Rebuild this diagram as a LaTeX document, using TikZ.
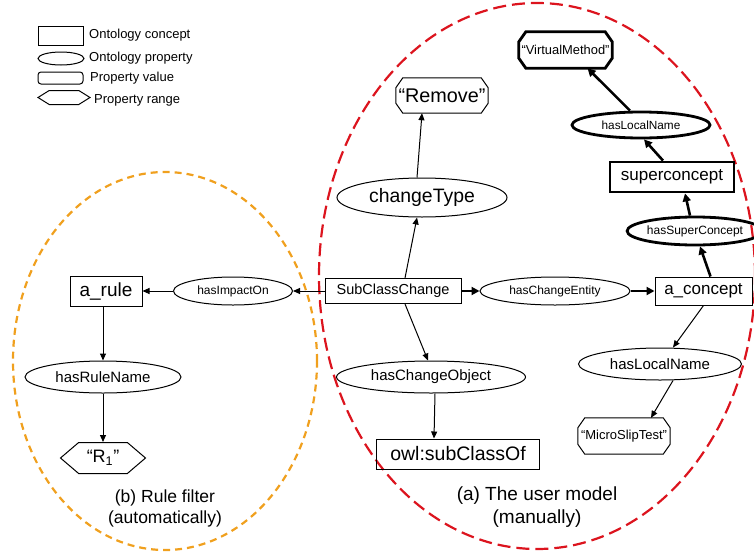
\documentclass[tikz,border=0pt]{standalone}
\usepackage{fontspec}
\setmainfont{Liberation Sans}
\usetikzlibrary{shapes.geometric,shapes.misc,shapes.symbols,arrows.meta,calc}
\definecolor{dashred}{RGB}{220,20,30}
\definecolor{dashorange}{RGB}{240,160,30}
\newcommand{\fs}[1]{\fontsize{#1}{#1}\selectfont}
\newcommand{\chamf}[4]{%
  \draw[#4] ([xshift=#2]#1.north west) -- ([xshift=-#2]#1.north east) -- ([yshift=-#3]#1.north east)
    -- ([yshift=#3]#1.south east) -- ([xshift=-#2]#1.south east) -- ([xshift=#2]#1.south west)
    -- ([yshift=#3]#1.south west) -- ([yshift=-#3]#1.north west) -- cycle;}
\begin{document}
\begin{tikzpicture}[x=1pt,y=-1pt,
  lthin/.style={line width=1pt},
  lthick/.style={line width=2.8pt},
  concept/.style={draw, rectangle, inner sep=0pt},
  prop/.style={draw, ellipse, inner sep=0pt},
  pval/.style={rectangle, inner sep=0pt},
  prange/.style={draw, signal, signal to=west and east, inner sep=0pt},
  arr/.style={line width=1pt, -{Triangle[length=7pt,width=6pt]}},
  tarr/.style={line width=2.6pt, -{Triangle[length=8pt,width=8pt]}},
  legtext/.style={anchor=west, font=\fs{13}, inner sep=0pt}
]
\useasboundingbox (0,0) rectangle (754,554);

% group ellipses
\draw[dashorange, line width=2.2pt, dash pattern=on 7pt off 5pt] (165,361) ellipse [x radius=152pt, y radius=189pt];
\draw[dashred, line width=2.2pt, dash pattern=on 13pt off 6pt] (537,276) ellipse [x radius=218pt, y radius=273pt];

% legend
\node[concept, lthin, minimum width=45pt, minimum height=19pt] (lc) at (60.5,35.5) {};
\node[prop, lthin, minimum width=46pt, minimum height=13pt] (lp) at (61,58.5) {};
\node[draw, lthin, rounded corners=3pt, minimum width=45pt, minimum height=12pt, inner sep=0pt] (lv) at (60.5,78) {};
\node[prange, lthin, minimum width=52pt, minimum height=14pt, signal pointer angle=64] (lr) at (64,97.5) {};
\node[legtext] (lct) at (89,35) {Ontology concept};
\node[legtext] (lpt) at (89,58) {Ontology property};
\node[legtext] (lvt) at (90,78) {Property value};
\node[legtext] (lrt) at (94,100) {Property range};

% left group
\node[concept, lthin, minimum width=72pt, minimum height=30pt, font=\fs{19}] (arule) at (106,291) {a\_rule};
\node[prop, lthin, minimum width=119pt, minimum height=28pt, font=\fs{12}] (imp) at (233,291) {hasImpactOn};
\node[prop, lthin, minimum width=156pt, minimum height=32pt, font=\fs{15}] (rname) at (103,377) {hasRuleName};
\node[prange, lthin, minimum width=85pt, minimum height=31pt, signal pointer angle=81, font=\fs{18}] (r1) at (103,458) {“R\textsubscript{1}”};
\node[font=\fs{17.5}, align=center, inner sep=0pt] (capb) at (165,508.5) {(b) Rule filter\\[4pt](automatically)};

% right group
\node[concept, lthin, minimum width=136pt, minimum height=25pt, font=\fs{14.5}] (sub) at (393,291) {SubClassChange};
\node[prop, lthin, minimum width=150pt, minimum height=28pt, font=\fs{12}] (hce) at (555,291) {hasChangeEntity};
\node[concept, lthin, minimum width=97pt, minimum height=28pt, font=\fs{17}] (ac) at (703.5,291) {a\_concept};
\node[prop, lthin, minimum width=189pt, minimum height=32pt, font=\fs{15}] (hco) at (431,377) {hasChangeObject};
\node[concept, lthin, minimum width=163pt, minimum height=30pt, font=\fs{19.5}] (owl) at (458,454) {owl:subClassOf};
\node[prop, lthin, minimum width=163pt, minimum height=32pt, font=\fs{15}] (hlnl) at (660,364) {hasLocalName};
\node[pval, minimum width=92pt, minimum height=36pt, font=\fs{13}] (mst) at (624,436) {“MicroSlipTest”};
\node[prop, lthin, minimum width=170pt, minimum height=39pt, font=\fs{19.4}] (ct) at (422,197.5) {changeType};
\node[pval, minimum width=92pt, minimum height=35pt, font=\fs{19.8}] (rem) at (442,95.5) {“Remove”};
\node[pval, minimum width=93pt, minimum height=36pt, font=\fs{12.9}] (vm) at (565.5,50) {“VirtualMethod”};
\node[prop, lthick, minimum width=138pt, minimum height=26pt, font=\fs{11.8}] (hlnu) at (641,125) {hasLocalName};
\node[concept, lthick, minimum width=124pt, minimum height=30pt, font=\fs{17}] (sup) at (672,177) {superconcept};
\node[prop, lthick, minimum width=116pt, minimum height=28pt, font=\fs{12}] (hsc) at (695,231) {hasSuperConcept};
\node[font=\fs{19}, align=center, inner sep=0pt] (capa) at (537,507.5) {(a) The user model\\[4pt](manually)};

% chamfered outlines of property values
\chamf{mst}{7pt}{10pt}{lthin}
\chamf{rem}{7pt}{10pt}{lthin}
\chamf{vm}{7pt}{10pt}{lthick}

% connectors left
\draw[arr] (sub.west) -- (imp.east);
\draw[arr] (imp.west) -- (arule.east);
\draw[arr] ([xshift=-3pt]arule.south) -- (rname.north);
\draw[arr] (rname.south) -- (r1.north);

% connectors right (thin)
\draw[arr] ([xshift=12pt]sub.north) -- ([xshift=-5pt]ct.south);
\draw[arr] ([xshift=-5pt]ct.north) -- ([xshift=-20pt]rem.south);
\draw[arr] ([xshift=12pt]sub.south) -- ([xshift=-3pt]hco.north);
\draw[arr] ([xshift=4pt]hco.south) -- ([xshift=-24pt]owl.north);
\draw[arr] (ac.south) -- ([xshift=13pt]hlnl.north);
\draw[arr] ([xshift=13pt]hlnl.south) -- ([xshift=27pt]mst.north);

% connectors right (thick)
\draw[tarr] (sub.east) -- (hce.west);
\draw[tarr] (hce.east) -- (ac.west);
\draw[tarr] ([xshift=7pt]ac.north) -- ([xshift=5pt]hsc.south);
\draw[tarr] ([xshift=-5pt]hsc.north) -- ([xshift=13pt]sup.south);
\draw[tarr] ([xshift=-9pt]sup.north) -- ([xshift=3pt]hlnu.south);
\draw[tarr] ([xshift=-11pt]hlnu.north) -- ([xshift=22pt]vm.south);
\end{tikzpicture}
\end{document}
